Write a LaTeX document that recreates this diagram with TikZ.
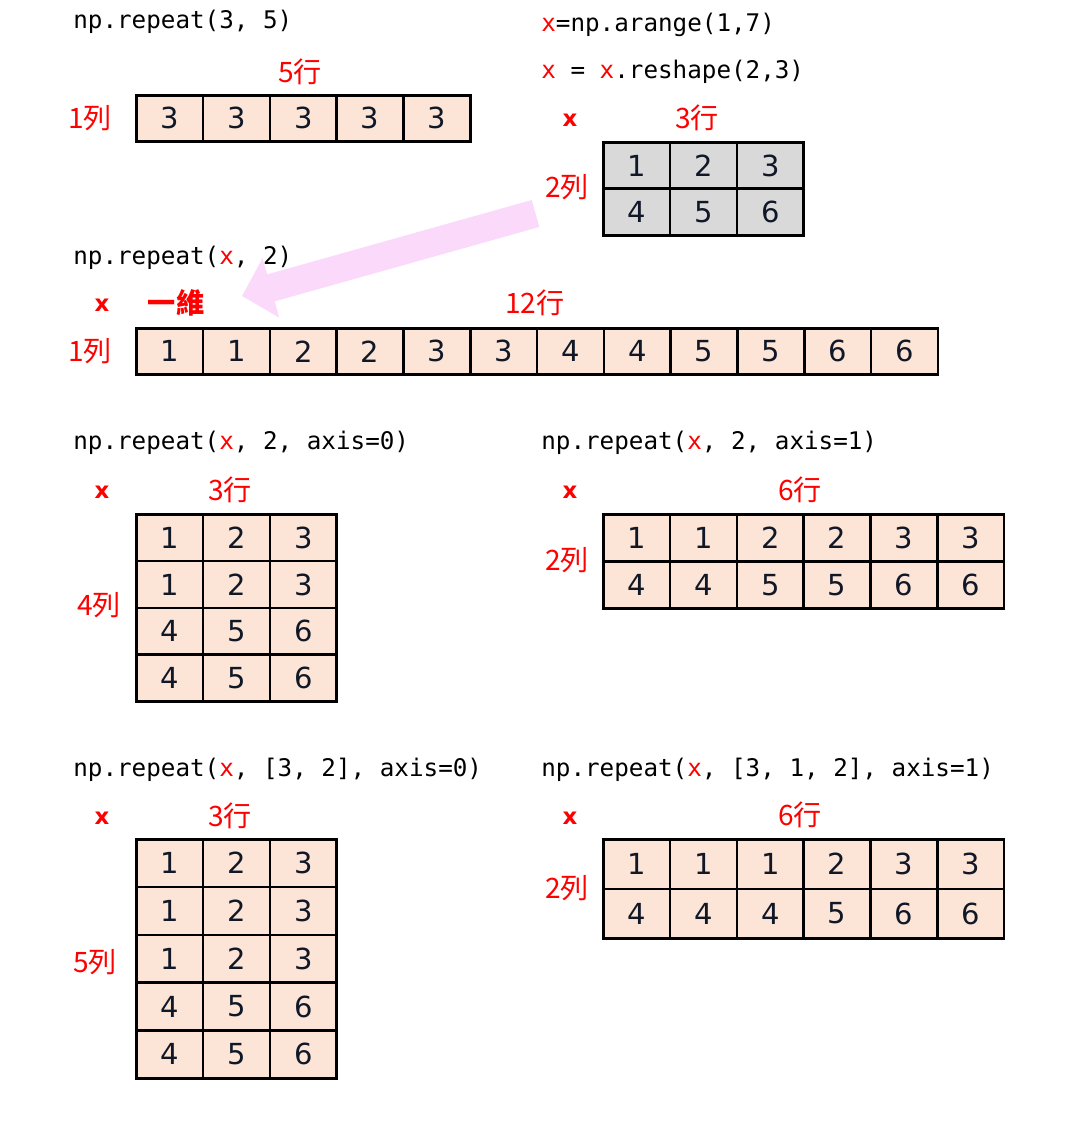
\documentclass[tikz,border=0pt]{standalone}
\usepackage{fontspec}
\setmainfont{DejaVu Sans}
\newfontfamily\codefont{DejaVu Sans Mono}
\newfontfamily\cjkfont{Noto Sans CJK TC}
\usetikzlibrary{arrows.meta}
\definecolor{ink}{HTML}{000000}
\definecolor{cred}{HTML}{FF0000}
\definecolor{cpeach}{HTML}{FCE4D6}
\definecolor{cgray}{HTML}{D9D9D9}
\definecolor{chint}{HTML}{FAD9FA}
\definecolor{cdigit}{HTML}{101828}
\tikzset{
  code/.style={anchor=west, font=\codefont\fontsize{13.8}{16}\selectfont, text=ink, inner sep=0pt},
  dimlab/.style={font=\cjkfont\fontsize{16}{18}\selectfont, text=cred, inner sep=0pt},
  varlab/.style={font=\bfseries\fontsize{13}{15}\selectfont, text=cred, inner sep=0pt},
  cell/.style={draw=ink, line width=1.5pt, anchor=north west, inner sep=0pt, minimum width=1.336cm, font=\fontsize{16.5}{19}\selectfont, text=cdigit},
  hintarr/.style={draw=chint, line width=0.56cm, -{Triangle[length=0.6cm, width=1.2cm]}},
}
% one array drawn as a grid of cells: name, x, y, row height, fill, rows
\newcommand\cellgrid[6]{%
  \foreach \row [count=\r] in {#6} {
    \foreach \v [count=\c] in \row {
      \node[cell, fill=#5, minimum height=#4*0.02cm] (#1-\r-\c) at ({#2+(\c-1)*66.8},{#3+(\r-1)*#4}) {\v};
    }
  }%
}
\newcommand\rx{\textcolor{cred}{x}}

\begin{document}
\begin{tikzpicture}[x=0.02cm, y=-0.02cm]
\useasboundingbox (0,0) rectangle (1072,1125);

% ---------------- hint arrow ----------------
\coordinate (hintS) at (535.5,213.5);
\coordinate (hintE) at (242,296);
\draw[hintarr] (hintS) -- (hintE);

% ---------------- np.repeat(3, 5) ----------------
\node[code] (c1) at (73,22) {np.repeat(3, 5)};
\node[dimlab] (c1cols) at (300,72) {5行};
\node[dimlab] (c1rows) at (90,118) {1列};
\cellgrid{g1}{135}{94}{46}{cpeach}{{3,3,3,3,3}}

% ---------------- x ----------------
\node[code] (cx1) at (541,25) {\rx=np.arange(1,7)};
\node[code] (cx2) at (541,72) {\rx{} = \rx.reshape(2,3)};
\node[varlab] (xv) at (570,120) {x};
\node[dimlab] (xcols) at (697,118) {3行};
\node[dimlab] (xrows) at (567,187) {2列};
\cellgrid{gx}{602}{141}{46.5}{cgray}{{1,2,3},{4,5,6}}

% ---------------- np.repeat(x, 2) ----------------
\node[code] (c2) at (73,258) {np.repeat(\rx, 2)};
\node[varlab] (c2v) at (102,305) {x};
\node[dimlab, font=\cjkfont\bfseries\fontsize{16}{18}\selectfont] (c2flat) at (176,303) {一維};
\node[dimlab] (c2cols) at (535,303) {12行};
\node[dimlab] (c2rows) at (90,351) {1列};
\cellgrid{g2}{135}{327}{46}{cpeach}{{1,1,2,2,3,3,4,4,5,5,6,6}}

% ---------------- axis=0 ----------------
\node[code] (c3) at (73,443) {np.repeat(\rx, 2, axis=0)};
\node[varlab] (c3v) at (102,492) {x};
\node[dimlab] (c3cols) at (230,490) {3行};
\node[dimlab] (c3rows) at (99,605) {4列};
\cellgrid{g3}{135}{513}{46.75}{cpeach}{{1,2,3},{1,2,3},{4,5,6},{4,5,6}}

% ---------------- axis=1 ----------------
\node[code] (c4) at (541,443) {np.repeat(\rx, 2, axis=1)};
\node[varlab] (c4v) at (570,492) {x};
\node[dimlab] (c4cols) at (800,490) {6行};
\node[dimlab] (c4rows) at (567,560) {2列};
\cellgrid{g4}{602}{513}{47}{cpeach}{{1,1,2,2,3,3},{4,4,5,5,6,6}}

% ---------------- [3, 2], axis=0 ----------------
\node[code] (c5) at (73,770) {np.repeat(\rx, [3, 2], axis=0)};
\node[varlab] (c5v) at (102,818) {x};
\node[dimlab] (c5cols) at (230,816) {3行};
\node[dimlab] (c5rows) at (95,962) {5列};
\cellgrid{g5}{135}{838}{47.8}{cpeach}{{1,2,3},{1,2,3},{1,2,3},{4,5,6},{4,5,6}}

% ---------------- [3, 1, 2], axis=1 ----------------
\node[code] (c6) at (541,770) {np.repeat(\rx, [3, 1, 2], axis=1)};
\node[varlab] (c6v) at (570,818) {x};
\node[dimlab] (c6cols) at (800,815) {6行};
\node[dimlab] (c6rows) at (567,888) {2列};
\cellgrid{g6}{602}{838}{49.5}{cpeach}{{1,1,1,2,3,3},{4,4,4,5,6,6}}

\end{tikzpicture}
\end{document}
